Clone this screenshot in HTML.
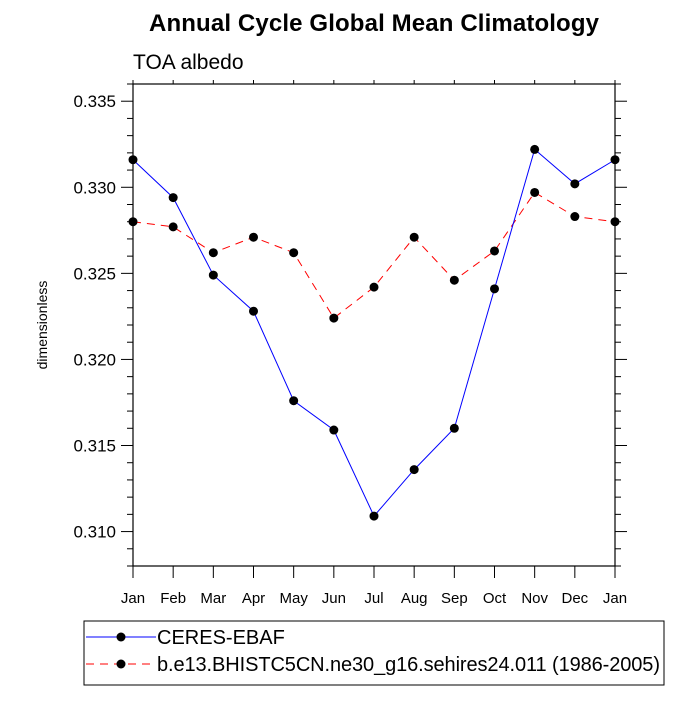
<!DOCTYPE html>
<html><head><meta charset="utf-8"><style>
body{margin:0;background:#fff;}
svg text{font-family:"Liberation Sans",sans-serif;}
</style></head><body>
<svg id="chart" width="700" height="700" viewBox="0 0 700 700" xmlns="http://www.w3.org/2000/svg">
<rect width="700" height="700" fill="#fff"/>
<text x="374" y="31" font-size="24" font-weight="bold" text-anchor="middle" textLength="450">Annual Cycle Global Mean Climatology</text>
<text x="133" y="69" font-size="21">TOA albedo</text>
<text transform="translate(47,325) rotate(-90)" font-size="14" text-anchor="middle">dimensionless</text>
<g id="ticks"></g>
<rect x="133" y="84" width="482" height="482" fill="none" stroke="#000" stroke-width="1.2"/>
<g id="series"></g>
<g>
<rect x="84" y="621" width="580" height="64" fill="none" stroke="#000" stroke-width="1"/>
<g>
<line x1="86" y1="637" x2="156" y2="637" stroke="#0000ff" stroke-width="1"/>
<circle cx="121" cy="637" r="4.5" fill="#000"/>
<text x="157" y="644" font-size="20">CERES-EBAF</text>
</g>
<g>
<line x1="86" y1="664" x2="156" y2="664" stroke="#ff0000" stroke-width="1" stroke-dasharray="8,6"/>
<circle cx="121" cy="664" r="4.5" fill="#000"/>
<text x="157" y="671" font-size="20" textLength="503">b.e13.BHISTC5CN.ne30_g16.sehires24.011 (1986-2005)</text>
</g>
</g>
</svg>
<script>
const months = ["Jan","Feb","Mar","Apr","May","Jun","Jul","Aug","Sep","Oct","Nov","Dec","Jan"];
const ceres = [0.3316,0.3294,0.3249,0.3228,0.3176,0.3159,0.3109,0.3136,0.3160,0.3241,0.3322,0.3302,0.3316];
const model = [0.3280,0.3277,0.3262,0.3271,0.3262,0.3224,0.3242,0.3271,0.3246,0.3263,0.3297,0.3283,0.3280];
const yTicks = [0.310,0.315,0.320,0.325,0.330,0.335];
const yLabels = ["0.310","0.315","0.320","0.325","0.330","0.335"];

const NS="http://www.w3.org/2000/svg";
const L=133,R=615,T=84,B=566,YMIN=0.308,YMAX=0.336;
const xs=i=>L+(R-L)*i/(months.length-1);
const ys=v=>B-(v-YMIN)/(YMAX-YMIN)*(B-T);
function mk(tag,attrs,parent){const e=document.createElementNS(NS,tag);for(const k in attrs)e.setAttribute(k,attrs[k]);parent.appendChild(e);return e;}
const tg=document.getElementById('ticks');
months.forEach((m,i)=>{
  const x=xs(i);
  mk('line',{x1:x,y1:B,x2:x,y2:B+12,stroke:'#000'},tg);
  mk('line',{x1:x,y1:T,x2:x,y2:T-4,stroke:'#000'},tg);
  const t=mk('text',{x:x,y:B+37,'font-size':15,'text-anchor':'middle'},tg);
  t.textContent=m;
  
  
});
for(let v=0.308;v<=0.33601;v+=0.001){
  const y=ys(v);
  const major=Math.abs(Math.round(v*1000)%5)===0;
  const len=major?12:6;
  mk('line',{x1:L,y1:y,x2:L-len,y2:y,stroke:'#000'},tg);
  mk('line',{x1:R,y1:y,x2:R+len,y2:y,stroke:'#000'},tg);
}
yTicks.forEach((v,i)=>{
  const t=mk('text',{x:L-17,y:ys(v)+6,'font-size':17,'text-anchor':'end'},tg);
  t.textContent=yLabels[i];
  
  
});
const sg=document.getElementById('series');
function drawSeries(vals,color,dash,name){
  const g=mk('g',{},sg);
  
  
  const pts=vals.map((v,i)=>xs(i)+','+ys(v)).join(' ');
  const pl=mk('polyline',{points:pts,fill:'none',stroke:color,'stroke-width':1},g);
  if(dash)pl.setAttribute('stroke-dasharray',dash);
  
  
  vals.forEach((v,i)=>{
    const c=mk('circle',{cx:xs(i),cy:ys(v),r:4.5,fill:'#000'},g);
    
    
  });
}
drawSeries(model,'#ff0000','8,6','model-series');
drawSeries(ceres,'#0000ff',null,'ceres-series');
</script>
</body></html>
